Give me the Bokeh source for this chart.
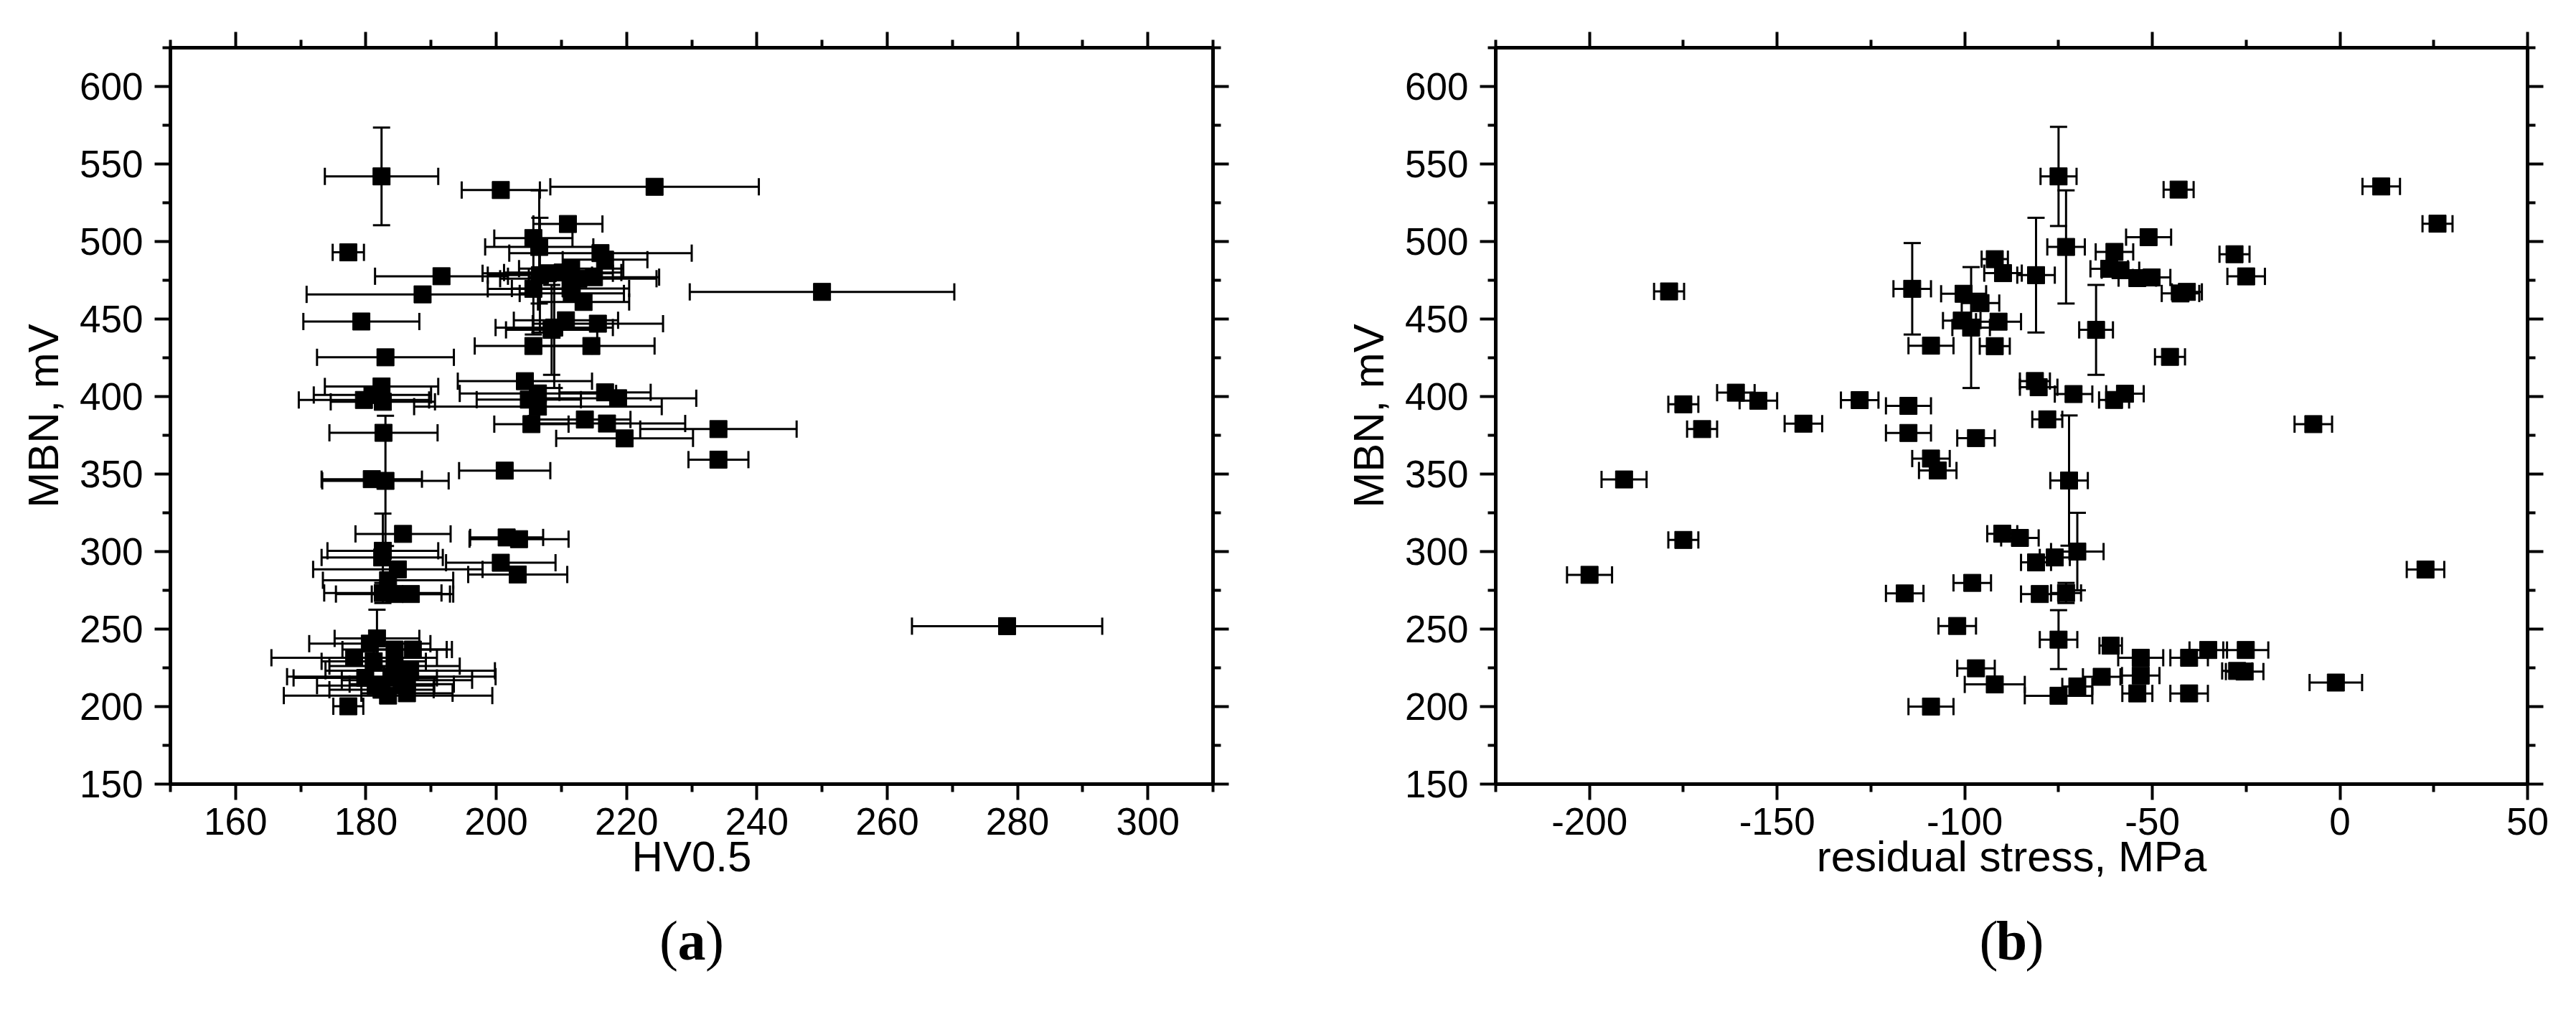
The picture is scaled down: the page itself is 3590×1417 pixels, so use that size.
from bokeh.plotting import figure
from bokeh.models import (ColumnDataSource, Whisker, TeeHead, LinearAxis,
                          FixedTicker, Range1d, CustomJSTickFormatter)
from bokeh.layouts import row, column
from bokeh.core.properties import value
from bokeh.embed import file_html
from bokeh.resources import INLINE

# ---------------- data: panel (a) ----------------
hv = [182.4, 200.7, 224.3, 211.0, 205.7, 206.6, 177.3, 216.0, 216.7, 191.6,
      211.5, 210.2, 207.9, 215.0, 206.7, 212.6, 188.7, 250.0, 205.7, 211.4,
      211.6, 213.4, 179.3, 208.9, 210.7, 215.6, 208.5, 205.7, 214.6, 183.0,
      204.4, 182.4, 179.7, 182.6, 206.4, 206.4, 216.7, 218.7, 181.0, 205.0,
      182.7, 205.4, 213.6, 217.0, 219.7, 234.1, 234.1, 201.3, 180.9, 183.0,
      185.7, 201.6, 203.5, 182.6, 182.5, 200.7, 184.9, 203.3, 183.4, 182.6,
      184.4, 186.9, 278.4, 181.7, 180.6, 184.4, 187.2, 178.2, 181.2, 184.4,
      186.8, 179.9, 183.9, 186.3, 182.4, 183.4, 186.3, 177.3, 185.5, 181.5]
hv_err = [8.7, 6.0, 16.0, 5.3, 6.0, 8.3, 2.4, 14.0, 6.5, 10.2,
          8.0, 9.0, 10.0, 10.0, 8.0, 12.0, 17.8, 20.3, 7.0, 9.0,
          8.0, 7.0, 8.9, 9.0, 8.0, 10.0, 7.0, 9.0, 9.7, 10.5,
          10.3, 8.7, 10.0, 8.0, 12.0, 19.0, 7.0, 12.0, 9.0, 8.0,
          8.3, 5.7, 7.0, 12.0, 10.5, 12.0, 4.6, 7.0, 7.7, 9.7,
          7.3, 5.6, 7.6, 8.5, 9.3, 8.4, 13.0, 7.6, 10.0, 9.0,
          9.0, 6.0, 14.6, 6.5, 9.3, 8.0, 6.0, 12.7, 8.0, 10.0,
          13.0, 11.0, 16.0, 10.0, 8.0, 16.0, 7.0, 2.3, 8.0, 9.0]
mbn_a = [542.0, 533.2, 535.3, 511.3, 502.2, 496.5, 493.0, 492.5, 488.3, 477.6,
         482.5, 480.0, 479.5, 477.0, 478.3, 476.0, 465.9, 467.5, 469.5, 469.7,
         466.5, 461.0, 448.4, 444.5, 449.2, 447.0, 443.0, 432.6, 432.6, 425.3,
         409.9, 406.5, 397.8, 396.6, 402.0, 393.5, 402.7, 398.9, 401.0, 398.0,
         376.6, 382.2, 385.2, 382.6, 373.0, 379.0, 359.3, 352.2, 346.7, 345.6,
         311.4, 309.1, 308.0, 300.5, 296.2, 292.8, 288.5, 285.2, 281.5, 273.3,
         272.6, 272.6, 251.9, 244.0, 240.6, 236.8, 236.8, 231.5, 229.2, 226.1,
         223.1, 218.5, 219.3, 217.0, 210.9, 207.1, 208.6, 200.2, 214.5, 213.5]
mbn_a_err = [31.5, 0, 0, 0, 0, 36.5, 0, 0, 0, 0,
             0, 0, 0, 0, 37.0, 0, 0, 0, 29.5, 0,
             0, 0, 0, 39.0, 0, 0, 29.0, 0, 0, 0,
             0, 0, 0, 0, 0, 0, 0, 0, 0, 0,
             0, 0, 0, 0, 0, 0, 0, 0, 0, 42.0,
             0, 0, 0, 24.0, 0, 0, 0, 0, 0, 6.5,
             0, 0, 0, 18.5, 0, 0, 0, 0, 0, 0,
             0, 0, 0, 0, 0, 0, 0, 0, 0, 0]

# ---------------- data: panel (b) ----------------
stress = [-75.0, -43.0, 11.0, 26.0, -51.0, -73.0, -60.1, -28.1, -92.0, -89.8,
          -81.0, -61.5, -58.5, -54.0, -50.2, -25.0, -178.8, -114.0, -100.3, -95.8,
          -42.5, -40.8, -100.8, -98.3, -91.0, -65.0, -109.0, -92.0, -45.3, -161.0,
          -155.0, -175.0, -128.0, -115.0, -81.3, -80.3, -71.0, -60.2, -57.3, -170.0,
          -143.0, -115.0, -97.0, -78.0, -7.1, -190.8, -109.0, -107.2, -72.2, -90.0,
          -85.3, -175.0, -200.0, -81.0, -76.0, -70.0, -80.0, -73.0, -116.0, -98.0,
          -102.0, 22.8, -75.0, -61.1, -53.1, -40.2, -35.1, -25.1, -27.4, -25.4,
          -63.5, -53.1, -97.0, -92.0, -70.0, -75.0, -54.0, -40.2, -1.1, -109.0]
stress_err = [4.8, 4.0, 5.0, 4.0, 6.0, 5.0, 5.0, 4.0, 3.5, 5.0,
              5.0, 5.0, 5.0, 5.0, 5.0, 5.0, 4.0, 5.0, 6.0, 5.0,
              5.0, 4.0, 5.0, 5.0, 6.0, 4.5, 6.0, 4.0, 4.0, 5.0,
              5.0, 4.0, 5.0, 6.0, 4.0, 5.0, 5.0, 4.0, 5.0, 4.0,
              5.0, 6.0, 5.0, 4.0, 5.0, 6.0, 5.0, 5.0, 5.0, 4.0,
              5.0, 4.0, 6.0, 4.0, 4.0, 7.0, 5.0, 4.0, 5.0, 5.0,
              5.0, 5.0, 5.0, 3.0, 6.0, 5.0, 5.0, 6.0, 4.0, 5.0,
              5.0, 5.0, 5.0, 8.0, 4.0, 9.0, 4.0, 5.0, 7.0, 6.0]
mbn_b = [542.0, 533.5, 535.5, 511.5, 502.8, 496.5, 493.3, 491.8, 488.6, 479.6,
         478.3, 482.4, 481.5, 476.4, 476.8, 477.5, 467.8, 469.5, 466.3, 460.3,
         466.5, 467.5, 449.0, 444.5, 448.3, 443.0, 432.8, 432.5, 425.6, 402.5,
         397.3, 395.0, 397.7, 394.0, 410.0, 406.0, 401.6, 397.8, 401.8, 379.0,
         382.5, 376.5, 373.2, 385.3, 382.2, 346.5, 360.0, 352.3, 345.8, 311.5,
         308.8, 307.5, 285.0, 293.0, 296.2, 300.0, 272.6, 273.3, 273.0, 279.8,
         252.0, 288.4, 243.2, 239.3, 231.5, 231.5, 236.5, 236.5, 223.0, 222.6,
         219.2, 220.0, 224.7, 214.3, 213.0, 207.0, 208.5, 208.5, 215.5, 200.0]
mbn_b_err = [32.0, 0, 0, 0, 0, 36.5, 0, 0, 0, 0,
             37.0, 0, 0, 0, 0, 0, 0, 29.5, 0, 0,
             0, 0, 0, 39.0, 0, 29.0, 0, 0, 0, 0,
             0, 0, 0, 0, 0, 0, 0, 0, 0, 0,
             0, 0, 0, 0, 0, 0, 0, 0, 42.0, 0,
             0, 0, 0, 0, 0, 25.0, 0, 6.5, 0, 0,
             0, 0, 19.0, 0, 0, 0, 0, 0, 0, 0,
             0, 0, 0, 0, 0, 0, 0, 0, 0, 0]

# axis settings (tick values)
hv_major = [160, 180, 200, 220, 240, 260, 280, 300]
hv_minor = [150, 170, 190, 210, 230, 250, 270, 290, 310]
rs_major = [-200, -150, -100, -50, 0, 50]
rs_minor = [-225, -175, -125, -75, -25, 25]
mbn_major = [150, 200, 250, 300, 350, 400, 450, 500, 550, 600]
mbn_minor = [175, 225, 275, 325, 375, 425, 475, 525, 575, 625]

SANS = "Liberation Sans"
SERIF = "Liberation Serif"
MAIN_H = 1255
LETTER_H = 145


def style_axis(ax, major, minor, show_labels=True):
    ax.ticker = FixedTicker(ticks=major, minor_ticks=minor)
    ax.axis_line_width = 5
    ax.axis_line_color = "black"
    ax.major_tick_line_width = 4
    ax.minor_tick_line_width = 4
    ax.major_tick_line_color = "black"
    ax.minor_tick_line_color = "black"
    ax.major_tick_in = 0
    ax.major_tick_out = 22
    ax.minor_tick_in = 0
    ax.minor_tick_out = 11
    if show_labels:
        ax.formatter = CustomJSTickFormatter(code="return String(tick);")
        ax.major_label_text_font = SANS
        ax.major_label_text_font_size = "53px"
        ax.major_label_text_color = "black"
        ax.axis_label_text_font = SANS
        ax.axis_label_text_font_size = "60px"
        ax.axis_label_text_font_style = "normal"
        ax.axis_label_text_color = "black"
    else:
        ax.major_label_text_font_size = "1px"
        ax.major_label_text_alpha = 0
        ax.major_label_standoff = 0


def panel(x, xerr, y, yerr, xr, xmaj, xmin, xlabel, width, bl, br, bt, bb):
    p = figure(width=width, height=MAIN_H, output_backend="svg",
               toolbar_location=None, x_range=Range1d(*xr),
               y_range=Range1d(150, 625), min_border_left=bl,
               min_border_right=br, min_border_top=bt, min_border_bottom=bb)
    p.grid.visible = False
    p.outline_line_color = None
    p.background_fill_color = "white"
    p.border_fill_color = "white"

    style_axis(p.xaxis[0], xmaj, xmin)
    style_axis(p.yaxis[0], mbn_major, mbn_minor)
    p.xaxis[0].axis_label = xlabel
    p.yaxis[0].axis_label = "MBN, mV"
    p.xaxis[0].major_label_standoff = 11
    p.yaxis[0].major_label_standoff = 16
    p.xaxis[0].axis_label_standoff = -6
    p.yaxis[0].axis_label_standoff = 14

    top = LinearAxis()
    style_axis(top, xmaj, xmin, show_labels=False)
    p.add_layout(top, "above")
    right = LinearAxis()
    style_axis(right, mbn_major, mbn_minor, show_labels=False)
    p.add_layout(right, "right")

    xs = ColumnDataSource(dict(y=y, lo=[a - e for a, e in zip(x, xerr)],
                               hi=[a + e for a, e in zip(x, xerr)]))
    p.add_layout(Whisker(source=xs, base="y", lower="lo", upper="hi",
                         dimension="width", line_width=3, line_color="black",
                         lower_head=TeeHead(size=24, line_width=3, line_color="black"),
                         upper_head=TeeHead(size=24, line_width=3, line_color="black")))
    sel = [i for i, e in enumerate(yerr) if e > 0]
    ys = ColumnDataSource(dict(x=[x[i] for i in sel],
                               lo=[y[i] - yerr[i] for i in sel],
                               hi=[y[i] + yerr[i] for i in sel]))
    p.add_layout(Whisker(source=ys, base="x", lower="lo", upper="hi",
                         dimension="height", line_width=3, line_color="black",
                         lower_head=TeeHead(size=24, line_width=3, line_color="black"),
                         upper_head=TeeHead(size=24, line_width=3, line_color="black")))

    p.scatter(x, y, marker="square", size=24, fill_color="black",
              line_color="black", line_width=1)
    return p


def letter_panel(letter, xr, width, bl, br):
    q = figure(width=width, height=LETTER_H, output_backend="svg",
               toolbar_location=None, x_range=Range1d(*xr),
               y_range=Range1d(0, LETTER_H), x_axis_type=None, y_axis_type=None,
               min_border_left=bl, min_border_right=br,
               min_border_top=0, min_border_bottom=0)
    q.grid.visible = False
    q.outline_line_color = None
    q.border_fill_color = "white"
    cx = (xr[0] + xr[1]) / 2.0
    yb = LETTER_H - 55
    for txt, off, align, style in (("(", -19, "right", "normal"),
                                   (letter, 0, "center", "bold"),
                                   (")", 19, "left", "normal")):
        q.text(x=[cx], y=[yb], text=[txt], x_offset=off,
               text_align=align, text_baseline="alphabetic",
               text_font=value(SERIF), text_font_size="78px",
               text_font_style=style, text_color="black")
    return q


pa = panel(hv, hv_err, mbn_a, mbn_a_err, (150, 310), hv_major, hv_minor,
           "HV0.5", 1792, 237, 102, 52, MAIN_H - 52 - 1040)
pb = panel(stress, stress_err, mbn_b, mbn_b_err, (-225, 50), rs_major, rs_minor,
           "residual stress, MPa", 1782, 292, 52, 66, MAIN_H - 66 - 1034)

la = letter_panel("a", (150, 310), 1792, 237, 102)
lb = letter_panel("b", (-225, 50), 1782, 292, 52)

layout = column(row(pa, pb, spacing=0), row(la, lb, spacing=0), spacing=0)
open("out.html", "w").write(file_html(layout, INLINE))
